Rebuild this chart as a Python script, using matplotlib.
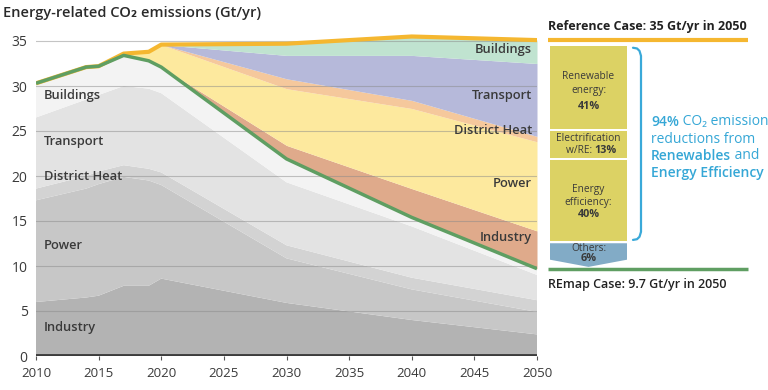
import numpy as np
import matplotlib
matplotlib.use("Agg")
import matplotlib.pyplot as plt
from matplotlib.patches import Polygon, Rectangle

plt.rcParams['font.family'] = ['Open Sans', 'DejaVu Sans']

years = [2010, 2014, 2015, 2017, 2019, 2020, 2030, 2040, 2050]

# REmap case emissions by sector (Gt/yr), bottom to top
remap_industry = [6.0, 6.5, 6.7, 7.8, 7.8, 8.6, 5.9, 4.0, 2.4]
remap_power = [11.3, 12.1, 12.4, 12.1, 11.7, 10.4, 4.95, 3.4, 2.5]
remap_heat = [1.3, 1.4, 1.4, 1.3, 1.3, 1.4, 1.45, 1.3, 1.3]
remap_transport = [7.9, 8.5, 8.5, 8.8, 8.9, 8.8, 7.0, 5.7, 2.8]
remap_buildings = [3.8, 3.6, 3.2, 3.4, 3.1, 2.9, 2.6, 1.0, 0.7]

# reductions vs reference case (Gt/yr), stacked on top of REmap total
red_industry = [0, 0, 0, 0, 0, 0, 1.5, 3.2, 4.2]
red_power = [0, 0, 0, 0.2, 1.0, 2.5, 6.3, 8.9, 9.9]
red_heat = [0, 0, 0, 0, 0, 0, 1.1, 0.9, 0.6]
red_transport = [0, 0, 0, 0, 0, 0, 2.6, 5.0, 8.1]
red_buildings = [0, 0, 0, 0, 0, 0, 1.3, 2.1, 2.6]

sectors = ['Industry', 'Power', 'District Heat', 'Transport', 'Buildings']
left_label_y = [3.2, 12.3, 20.0, 23.8, 28.9]
right_label_y = [13.2, 19.2, 25.1, 29.0, 34.0]

# contribution of reduction measures (%)
measures = [['Renewable', 'energy:'], ['Electrification', 'w/RE:'], ['Energy', 'efficiency:'], ['Others:']]
shares = [41, 13, 40, 6]

gray_cols = ['#b3b3b3', '#c7c7c7', '#d3d3d3', '#e3e3e3', '#f3f3f3']
wedge_cols = ['#dfaa8b', '#fde99e', '#f5c89c', '#b6b9da', '#c0e3d0']
txt = '#3a3a3a'

remap = [remap_industry, remap_power, remap_heat, remap_transport, remap_buildings]
reds = [red_industry, red_power, red_heat, red_transport, red_buildings]
remap_total = np.sum(remap, axis=0)
ref_total = remap_total + np.sum(reds, axis=0)

fig = plt.figure(figsize=(7.68, 3.9), dpi=100)
ymax = 36.5
bottom = 34 / 390
height = ymax * 9 / 390
ax = fig.add_axes([36 / 768, bottom, 501 / 768, height])

ax.stackplot(years, *remap, colors=gray_cols, linewidth=0)
base = remap_total.copy()
for r, c in zip(reds, wedge_cols):
    ax.fill_between(years, base, base + np.array(r), color=c, linewidth=0)
    base = base + np.array(r)

for v in range(5, 40, 5):
    ax.axhline(v, color='#8a8a8a', lw=0.8, alpha=0.5, zorder=3)

ax.plot(years, ref_total, color='#f5b730', lw=3, zorder=5, solid_capstyle='butt')
ax.plot(years, remap_total, color='#5f9e62', lw=2.5, zorder=6, solid_capstyle='butt')
ax.axhline(0, color='#3c3c3c', lw=3.5, zorder=7)

for name, yv in zip(sectors, left_label_y):
    ax.text(2010.6, yv, name, color=txt, fontsize=9.3, fontweight='semibold', va='center')
for name, yv in zip(sectors, right_label_y):
    ax.text(2049.6, yv, name, color=txt, fontsize=9.3, fontweight='semibold', va='center', ha='right', zorder=8)

ax.set_xlim(2010, 2050)
ax.set_ylim(0, ymax)
ax.set_xticks(range(2010, 2051, 5))
ax.set_yticks(range(0, 36, 5))
ax.tick_params(axis='y', length=0, labelsize=10, labelcolor=txt, pad=6)
ax.tick_params(axis='x', length=3, labelsize=9.5, labelcolor=txt, color='#555555', pad=5)
for s in ax.spines.values():
    s.set_visible(False)

fig.text(3 / 768, 1 - 13 / 390, 'Energy-related CO₂ emissions (Gt/yr)', color='#2a2a2a',
         fontsize=10.5, fontweight='semibold', va='center')

# right-hand panel, x in pixels, y in Gt/yr
ax2 = fig.add_axes([540 / 768, bottom, 228 / 768, height])
ax2.set_xlim(540, 768)
ax2.set_ylim(0, ymax)
ax2.axis('off')

ax2.plot([548, 748], [ref_total[-1]] * 2, color='#f5b730', lw=3, solid_capstyle='butt')
ax2.plot([548, 748], [remap_total[-1]] * 2, color='#5f9e62', lw=2.5, solid_capstyle='butt')
ax2.text(548, 36.6, 'Reference Case: %d Gt/yr in 2050' % round(ref_total[-1]), color='#222222',
         fontsize=9, fontweight='bold', va='center')
ax2.text(548, 7.9, 'REmap Case: %.1f Gt/yr in 2050' % remap_total[-1], color='#222222',
         fontsize=9, fontweight='semibold', va='center')

x0, x1 = 550, 627
xc = (x0 + x1) / 2
box_col = '#dcd264'
scale = 0.2246
gap = 0.27
top = 34.45
mids = []
for sh in shares[:3]:
    h = sh * scale
    ax2.add_patch(Rectangle((x0, top - h), x1 - x0, h, color=box_col, lw=0))
    mids.append(top - h / 2)
    top = top - h - gap

tip = remap_total[-1] + 0.2
side = tip + 0.8
ax2.add_patch(Polygon([(x0, top), (x1, top), (x1, side), (xc, tip), (x0, side)],
                      closed=True, color='#82abc6', lw=0))

fs = 7.3
def box_text(y, s, bold=False, ha='center', x=xc):
    ax2.text(x, y, s, ha=ha, va='center', fontsize=fs + (0.5 if bold else 0), color=txt,
             fontweight='bold' if bold else 'normal')

box_text(mids[0] + 1.2, measures[0][0])
box_text(mids[0] - 0.4, measures[0][1])
box_text(mids[0] - 2.1, '%d%%' % shares[0], bold=True)

box_text(mids[1] + 0.65, measures[1][0])
box_text(mids[1] - 0.7, measures[1][1] + ' ', ha='right', x=xc + 6)
box_text(mids[1] - 0.7, '%d%%' % shares[1], bold=True, ha='left', x=xc + 6)

box_text(mids[2] + 1.2, measures[2][0])
box_text(mids[2] - 0.2, measures[2][1])
box_text(mids[2] - 1.6, '%d%%' % shares[2], bold=True)

box_text(top - 0.6, measures[3][0])
box_text(top - 1.7, '%d%%' % shares[3], bold=True)

# bracket
bt, bb = 34.25, mids[2] - shares[2] * scale / 2 + 0.1
bx = [633, 637, 639.5, 641, 641, 639.5, 637, 633]
by = [bt, bt - 0.08, bt - 0.35, bt - 0.9, bb + 0.9, bb + 0.35, bb + 0.08, bb]
ax2.plot(bx, by, color='#3aa9d9', lw=1.6, solid_capstyle='round')

blue = '#35a7d6'
def rich(x, y, parts, size=10):
    t = ax2.text(x, y, parts[0][0], fontweight=parts[0][1], color=blue, fontsize=size, va='center')
    for s, w in parts[1:]:
        t = ax2.annotate(s, xy=(1, 0), xycoords=t, va='bottom', ha='left', fontweight=w,
                         color=blue, fontsize=size)

total_share = shares[0] + shares[1] + shares[2]
rich(651, 26.0, [('%d%%' % total_share, 'semibold'), (' CO₂ emission', 'normal')])
rich(651, 24.1, [('reductions from', 'normal')])
rich(651, 22.2, [('Renewables', 'semibold'), (' and', 'normal')])
rich(651, 20.3, [('Energy Efficiency', 'semibold')])

fig.savefig('out.png', dpi=100)
